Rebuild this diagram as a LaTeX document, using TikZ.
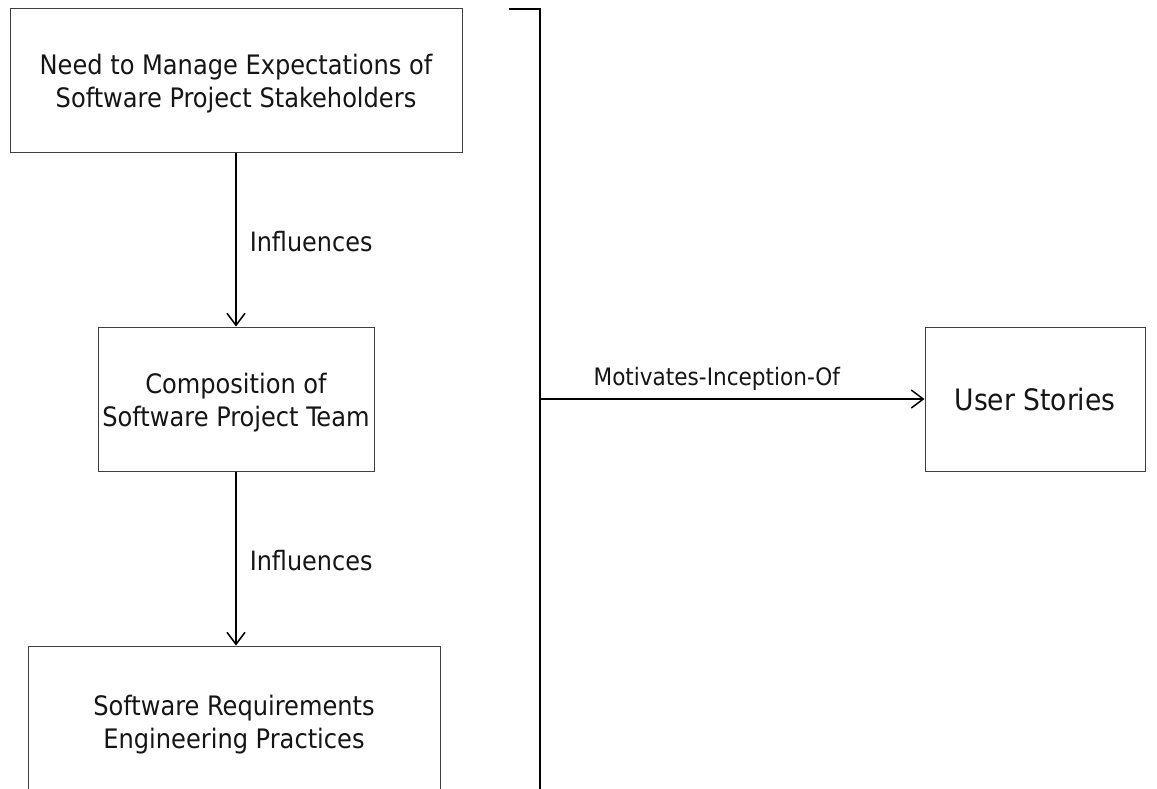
\documentclass[tikz,border=0pt]{standalone}
\usepackage{fontspec}
\setmainfont{DejaVu Sans Condensed}
\usetikzlibrary{arrows.meta}
\definecolor{boxline}{HTML}{404040}
\definecolor{ink}{HTML}{151515}
% strut that lowers a two-line caption slightly inside its box
\newcommand{\capstrut}{\rule{0pt}{28pt}}
\begin{document}
\begin{tikzpicture}[x=1pt,y=-1pt,
  box/.style={draw=boxline,line width=1pt,fill=white,align=center,text=ink,
    font=\fontsize{26.8}{33}\selectfont,inner sep=0pt},
  link/.style={draw=black,line width=1.5pt,-{Straight Barb[length=12pt,width=18pt,line width=1.5pt]}},
  lbl/.style={text=ink,font=\fontsize{26.6}{28}\selectfont,inner sep=0pt}]
  \clip (0,0) rectangle (1157,788);
  \fill[white] (0,0) rectangle (1157,788);

  % stacked boxes on the left
  \node[box,minimum width=452pt,minimum height=144pt] (need) at (236,80)
    {\capstrut Need to Manage Expectations of\\Software Project Stakeholders};
  \node[box,minimum width=276pt,minimum height=144pt] (team) at (236,399)
    {\capstrut Composition of\\Software Project Team};
  \node[box,minimum width=412pt,minimum height=150pt] (sre) at (234,721)
    {\capstrut Software Requirements\\Engineering Practices};

  % target box on the right
  \node[box,minimum width=220pt,minimum height=144pt,font=\fontsize{29.5}{32}\selectfont] (us) at (1035,399)
    {User Stories};

  % influence chain
  \draw[link] (need.south) -- (team.north)
    node[lbl,midway,anchor=west,xshift=13pt,yshift=-2pt] (inf1) {Influences};
  \draw[link] (team.south) -- (team.south |- sre.north)
    node[lbl,midway,anchor=west,xshift=13pt,yshift=-2pt] (inf2) {Influences};

  % grouping bracket and its outgoing relation
  \coordinate (bl) at (510,9);
  \coordinate (bt) at (540,9);
  \coordinate (bb) at (540,800);
  \coordinate (bm) at (540,399);
  \draw[line width=2pt,line cap=rect] (bl) -- (bt) -- (bb);
  \draw[link] (bm) -- (us.west)
    node[lbl,pos=0.46,above=8pt,font=\fontsize{24}{28}\selectfont] (mot) {Motivates-Inception-Of};
\end{tikzpicture}
\end{document}
